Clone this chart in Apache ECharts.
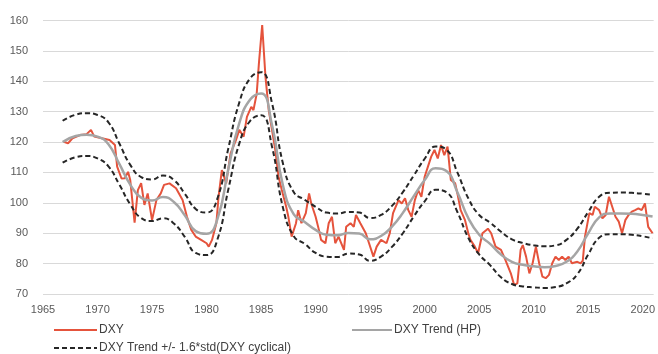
<!DOCTYPE html>
<html>
<head>
<meta charset="utf-8">
<script src="https://cdn.jsdelivr.net/npm/echarts@6/dist/echarts.min.js"></script>
<style>html,body{margin:0;padding:0;background:#fff}#c{width:658px;height:354px}</style>
</head>
<body>
<div id="c"></div>
<script>
// DXY
const dxyYears = [1966.9,1967.3,1967.7,1968.4,1969.0,1969.4,1969.7,1970.5,1971.1,1971.6,1971.8,1972.2,1972.5,1972.8,1973.0,1973.4,1973.7,1974.0,1974.3,1974.6,1975.0,1975.4,1975.8,1976.1,1976.6,1977.2,1977.8,1978.2,1978.6,1979.0,1979.5,1980.0,1980.2,1980.5,1980.9,1981.1,1981.4,1981.8,1982.2,1982.7,1983.0,1983.4,1983.7,1984.1,1984.3,1984.6,1984.8,1985.1,1985.4,1985.7,1986.0,1986.3,1986.6,1986.9,1987.3,1987.5,1987.8,1988.2,1988.4,1988.7,1989.1,1989.4,1989.6,1990.0,1990.3,1990.5,1990.9,1991.2,1991.5,1991.8,1992.1,1992.6,1992.8,1993.2,1993.5,1993.7,1994.1,1994.6,1994.9,1995.3,1995.6,1996.0,1996.5,1996.8,1997.1,1997.6,1997.9,1998.2,1998.5,1998.8,1999.1,1999.4,1999.7,2000.0,2000.3,2000.6,2000.9,2001.2,2001.5,2001.8,2002.1,2002.4,2002.8,2003.0,2003.3,2003.7,2004.0,2004.2,2004.6,2004.9,2005.3,2005.8,2006.1,2006.5,2007.0,2007.4,2007.9,2008.2,2008.5,2008.8,2009.0,2009.3,2009.6,2009.9,2010.2,2010.5,2010.8,2011.1,2011.4,2011.7,2012.0,2012.3,2012.6,2012.9,2013.2,2013.5,2014.0,2014.3,2014.5,2014.7,2015.1,2015.4,2015.6,2016.0,2016.3,2016.6,2016.9,2017.2,2017.5,2017.8,2018.1,2018.4,2018.7,2019.0,2019.3,2019.6,2019.9,2020.2,2020.5,2020.9];
const dxyValues = [120.1,119.6,121.2,122.3,122.6,124.0,121.8,121.2,120.7,119.0,111.9,108.0,108.1,110.2,107.5,93.5,104.2,106.5,99.3,103.1,94.3,100.9,103.1,105.9,106.4,104.8,100.9,95.4,91.1,88.9,87.8,86.7,85.6,87.8,93.3,102.0,110.8,106.4,116.3,120.7,124.0,121.8,128.3,131.6,130.5,136.0,145.9,158.5,141.5,130.5,124.0,117.4,108.6,104.2,98.7,95.4,88.9,93.3,97.6,93.3,96.6,103.1,99.8,95.4,91.1,87.8,86.7,93.3,95.4,86.7,88.9,84.5,92.1,93.3,92.1,96.0,93.3,90.0,86.7,82.3,85.6,87.8,86.7,90.0,96.6,100.9,99.8,101.5,97.6,95.4,100.9,104.2,102.0,108.6,111.9,115.2,117.4,114.6,119.0,115.7,118.5,107.5,106.4,103.1,97.6,94.3,90.0,87.8,85.6,83.4,90.0,91.5,90.0,85.6,84.5,81.2,76.8,73.0,73.5,84.5,86.1,82.3,76.8,80.1,85.6,80.1,75.7,75.2,76.3,80.1,82.3,81.2,82.3,81.2,82.3,80.1,80.6,80.1,81.0,88.9,96.6,96.0,98.7,97.6,94.9,96.0,102.0,98.7,95.4,93.8,90.0,94.3,96.0,97.1,97.6,98.2,97.6,99.8,92.1,90.0];

// Trend and bands
const trendYears = [1966.8,1968,1969,1970,1971,1972,1973,1974,1975,1976,1977,1978,1979,1980,1981,1982,1983,1984,1985,1986,1987,1988,1989,1990,1991,1992,1993,1994,1995,1996,1997,1998,1999,2000,2001,2002,2003,2004,2005,2006,2007,2008,2009,2010,2011,2012,2013,2014,2015,2016,2017,2018,2019,2020,2020.9];
const upperBand = [127.0,129.0,129.5,128.9,126.5,119.5,112.5,108.5,107.7,109.0,107.5,103.0,98.0,96.8,101.5,118.0,133.0,141.0,143.0,132.8,113.0,103.5,101.0,98.7,96.8,96.5,97.0,96.8,95.0,96.0,99.0,103.5,109.0,114.5,118.5,117.5,110.0,101.5,96.0,93.5,90.5,88.0,86.8,86.0,85.7,86.0,87.8,91.5,97.0,102.0,103.3,103.4,103.3,103.0,102.6];
const lowerBand = [113.2,115.0,115.4,114.6,112.0,106.0,99.5,95.0,94.0,94.9,93.2,88.8,83.5,82.8,88.0,104.5,119.5,127.0,128.8,118.5,98.5,89.0,86.5,83.5,82.3,82.2,83.3,83.0,80.9,82.3,85.5,90.0,95.5,100.5,104.3,103.5,97.0,88.5,83.0,79.5,75.5,73.3,72.5,72.2,72.0,72.3,73.5,76.5,83.0,88.5,89.7,89.7,89.5,89.0,88.3];
const trendValues = [120.0,122.0,122.4,121.8,119.3,112.8,106.0,101.7,100.8,101.9,100.3,95.9,90.7,89.8,94.7,111.2,126.2,134.0,136.0,125.6,105.8,96.2,93.7,91.1,89.5,89.3,90.1,89.9,88.0,89.1,92.2,96.7,102.2,107.5,111.4,110.5,103.5,95.0,89.5,86.5,83.0,80.6,79.6,79.1,78.8,79.2,80.6,84.0,90.0,95.2,96.5,96.5,96.4,96.0,95.5];

const seriesNames = ['DXY', 'DXY Trend (HP)', 'DXY Trend +/- 1.6*std(DXY cyclical)'];
const xTicks = {min: 1965, max: 2021, step: 5};
const yTicks = {min: 70, max: 160, step: 10};

const pairs = (xs, ys) => xs.map((x, i) => [x, ys[i]]);

const chart = echarts.init(document.getElementById('c'), null, {renderer: 'canvas'});
const font = 'Liberation Sans, Arial, sans-serif';
const bandStyle = {color: '#262626', width: 2, type: [5, 3]};
const legendBase = {
  padding: 0, itemHeight: 10, itemGap: 0,
  itemStyle: {opacity: 0, borderWidth: 0},
  textStyle: {fontFamily: font, fontSize: 12, color: '#404040', padding: [0, 0, 0, -3]}
};
chart.setOption({
  animation: false,
  backgroundColor: '#ffffff',
  grid: {left: 43, right: 2, top: 20.5, bottom: 60},
  legend: [
    Object.assign({left: 53, top: 324, itemWidth: 43, data: [seriesNames[0]]}, legendBase),
    Object.assign({left: 351, top: 324, itemWidth: 40, data: [seriesNames[1]]}, legendBase),
    Object.assign({left: 53, top: 342, itemWidth: 43, data: [seriesNames[2]]}, legendBase)
  ],
  xAxis: {
    type: 'value', min: xTicks.min, max: xTicks.max, interval: xTicks.step,
    axisLine: {show: false}, axisTick: {show: false}, splitLine: {show: false},
    axisLabel: {showMaxLabel: false, margin: 10, fontFamily: font, fontSize: 11, color: '#595959',
      formatter: v => String(v)}
  },
  yAxis: {
    type: 'value', min: yTicks.min, max: yTicks.max, interval: yTicks.step,
    axisLine: {show: false}, axisTick: {show: false},
    splitLine: {lineStyle: {color: '#d9d9d9', width: 1}},
    axisLabel: {margin: 15, fontFamily: font, fontSize: 11, color: '#595959'}
  },
  series: [
    {name: seriesNames[0], type: 'line', symbol: 'none', data: pairs(dxyYears, dxyValues),
     lineStyle: {color: '#e5533c', width: 2}, itemStyle: {color: '#e5533c'}},
    {name: seriesNames[1], type: 'line', symbol: 'none', smooth: true, data: pairs(trendYears, trendValues),
     lineStyle: {color: '#a5a5a5', width: 2.5}, itemStyle: {color: '#a5a5a5'}},
    {name: seriesNames[2], type: 'line', symbol: 'none', smooth: true, data: pairs(trendYears, upperBand),
     lineStyle: bandStyle, itemStyle: {color: '#262626'}},
    {name: seriesNames[2], type: 'line', symbol: 'none', smooth: true, data: pairs(trendYears, lowerBand),
     lineStyle: bandStyle, itemStyle: {color: '#262626'}}
  ]
});
</script>
</body>
</html>
